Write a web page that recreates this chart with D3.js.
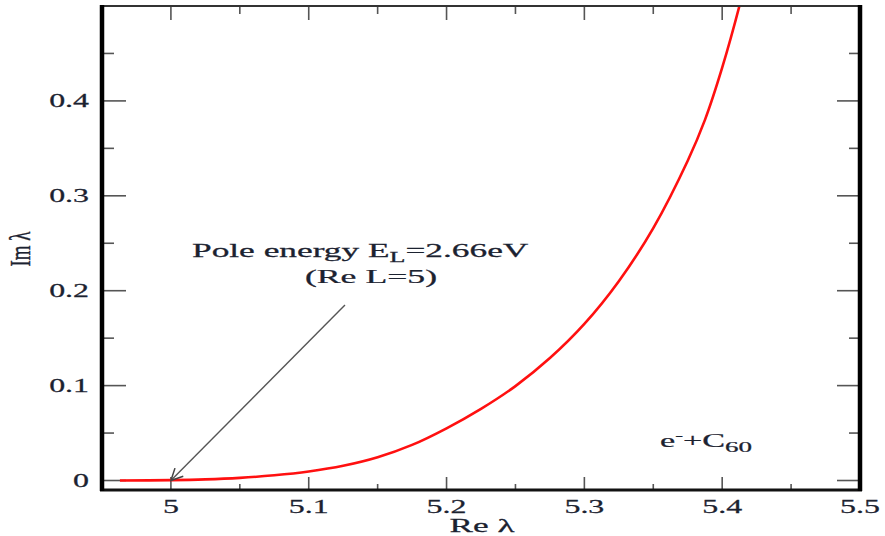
<!DOCTYPE html>
<html>
<head>
	<script src="https://d3js.org/d3.v7.min.js"></script>
	<style>
		body { margin: 0; background: #fff; }
		text { font-family: "Liberation Serif", "DejaVu Serif", serif; fill: #1b2230; stroke: #1b2230; stroke-width: 0.25px; }
	</style>
</head>
<body>
<script type="text/javascript">

	// curve values (Re lambda, Im lambda)
	var reLambda = [4.963, 5.0, 5.025, 5.05, 5.075, 5.1, 5.125, 5.15, 5.175, 5.2, 5.225, 5.25,
		5.275, 5.3, 5.325, 5.35, 5.375, 5.3875, 5.4, 5.4125, 5.42];
	var imLambda = [0.0, 0.0004, 0.0012, 0.0028, 0.0055, 0.0095, 0.0155, 0.0245, 0.0375, 0.055, 0.0755, 0.0995,
		0.129, 0.165, 0.21, 0.266, 0.337, 0.38, 0.435, 0.5, 0.545];

	var xTicks = [5, 5.1, 5.2, 5.3, 5.4, 5.5];
	var xTickLabels = ["5", "5.1", "5.2", "5.3", "5.4", "5.5"];
	var xMinor = [5.05, 5.15, 5.25, 5.35, 5.45];
	var yTicks = [0, 0.1, 0.2, 0.3, 0.4];
	var yTickLabels = ["0", "0.1", "0.2", "0.3", "0.4"];
	var yMinor = [0.05, 0.15, 0.25, 0.35, 0.45];

	// annotation arrow in data units
	var arrowFrom = [5.1263, 0.185];
	var arrowTo = [5.0, 0.0];

	var w = 885, h = 536;
	var mLeft = 102, mRight = 860, mTop = 6, mBottom = 490;

	var svg = d3.select("body").append("svg")
		.attr("width", w)
		.attr("height", h);

	var x = d3.scaleLinear().domain([4.95, 5.5]).range([mLeft, mRight]);
	var y = d3.scaleLinear().domain([-0.01, 0.5]).range([mBottom, mTop]);

	svg.append("clipPath").attr("id", "clip")
		.append("rect")
		.attr("x", mLeft).attr("y", mTop)
		.attr("width", mRight - mLeft).attr("height", mBottom - mTop);

	//tick marks, all pointing into the frame
	function tickLines(g, vals, len, horizontalAxis, at, dir) {
		g.selectAll(null)
			.data(vals)
			.enter()
			.append("line")
			.attr("x1", function(d){ return horizontalAxis ? x(d) : at; })
			.attr("x2", function(d){ return horizontalAxis ? x(d) : at + dir * len; })
			.attr("y1", function(d){ return horizontalAxis ? at : y(d); })
			.attr("y2", function(d){ return horizontalAxis ? at + dir * len : y(d); })
			.attr("stroke", "#555")
			.attr("stroke-width", 1.6);
	}

	var ticks = svg.append("g");
	tickLines(ticks, xTicks, 13, true, mBottom, -1);
	tickLines(ticks, xMinor, 6, true, mBottom, -1);
	tickLines(ticks, xTicks, 14, true, mTop, 1);
	tickLines(ticks, xMinor, 8, true, mTop, 1);
	tickLines(ticks, yTicks, 24, false, mLeft, 1);
	tickLines(ticks, yMinor, 12, false, mLeft, 1);
	tickLines(ticks, yTicks, 23, false, mRight, -1);
	tickLines(ticks, yMinor, 11, false, mRight, -1);

	//the curve
	var pts = reLambda.map(function(d, i){ return [d, imLambda[i]]; });
	svg.append("path")
		.datum(pts)
		.attr("clip-path", "url(#clip)")
		.attr("fill", "none")
		.attr("stroke", "#ff1010")
		.attr("stroke-width", 2.6)
		.attr("d", d3.line()
			.x(function(d){ return x(d[0]); })
			.y(function(d){ return y(d[1]); })
			.curve(d3.curveCatmullRom.alpha(0.5)));

	//frame
	svg.append("line").attr("x1", mLeft).attr("x2", mRight).attr("y1", mTop).attr("y2", mTop)
		.attr("stroke", "#333").attr("stroke-width", 2);
	svg.append("line").attr("x1", mLeft - 2).attr("x2", mRight + 2).attr("y1", mBottom).attr("y2", mBottom)
		.attr("stroke", "#111").attr("stroke-width", 3);
	svg.append("line").attr("x1", mLeft).attr("x2", mLeft).attr("y1", mTop - 1).attr("y2", mBottom + 1)
		.attr("stroke", "#000").attr("stroke-width", 4.5);
	svg.append("line").attr("x1", mRight).attr("x2", mRight).attr("y1", mTop - 1).attr("y2", mBottom + 1)
		.attr("stroke", "#000").attr("stroke-width", 4.5);

	//text helper, stretched sideways like the picture
	function label(tx, ty, str, anchor, size, sx) {
		var t = svg.append("text")
			.attr("transform", "translate(" + tx + "," + ty + ") scale(" + sx + ",1)")
			.attr("text-anchor", anchor)
			.style("font-size", size + "px");
		if (typeof str === "string") {
			t.text(str);
		}
		return t;
	}

	xTicks.forEach(function(d, i){
		label(x(d), 513, xTickLabels[i], "middle", 19, 1.68);
	});
	yTicks.forEach(function(d, i){
		label(89, y(d) + 6, yTickLabels[i], "end", 19, 1.68);
	});

	label(482, 532, "Re λ", "middle", 19, 1.85);

	svg.append("text")
		.attr("transform", "translate(30,249) rotate(-90) scale(1,1.6)")
		.attr("text-anchor", "middle")
		.style("font-size", "19px")
		.text("Im λ");

	// annotation
	var a1 = label(192, 257, null, "start", 19, 1.86);
	a1.append("tspan").text("Pole energy E");
	a1.append("tspan").attr("dy", 5).style("font-size", "14px").text("L");
	a1.append("tspan").attr("dy", -5).text("=2.66eV");
	label(371, 283, "(Re L=5)", "middle", 19, 1.88);

	var a2 = label(660, 447, null, "start", 19, 1.8);
	a2.append("tspan").text("e");
	a2.append("tspan").attr("dy", -8).style("font-size", "13px").text("-");
	a2.append("tspan").attr("dy", 8).text("+C");
	a2.append("tspan").attr("dy", 5).style("font-size", "15px").text("60");

	svg.append("defs").append("marker")
		.attr("id", "arrow")
		.attr("viewBox", "0 0 12 12")
		.attr("refX", 11).attr("refY", 6)
		.attr("markerWidth", 14).attr("markerHeight", 14)
		.attr("markerUnits", "userSpaceOnUse")
		.attr("orient", "auto")
		.append("path")
		.attr("d", "M1,1 L11,6 L1,11")
		.attr("fill", "none")
		.attr("stroke", "#444")
		.attr("stroke-width", 1.3);

	svg.append("line")
		.attr("x1", x(arrowFrom[0])).attr("y1", y(arrowFrom[1]))
		.attr("x2", x(arrowTo[0])).attr("y2", y(arrowTo[1]))
		.attr("stroke", "#555")
		.attr("stroke-width", 1.4)
		.attr("marker-end", "url(#arrow)");

</script>
</body>
</html>
